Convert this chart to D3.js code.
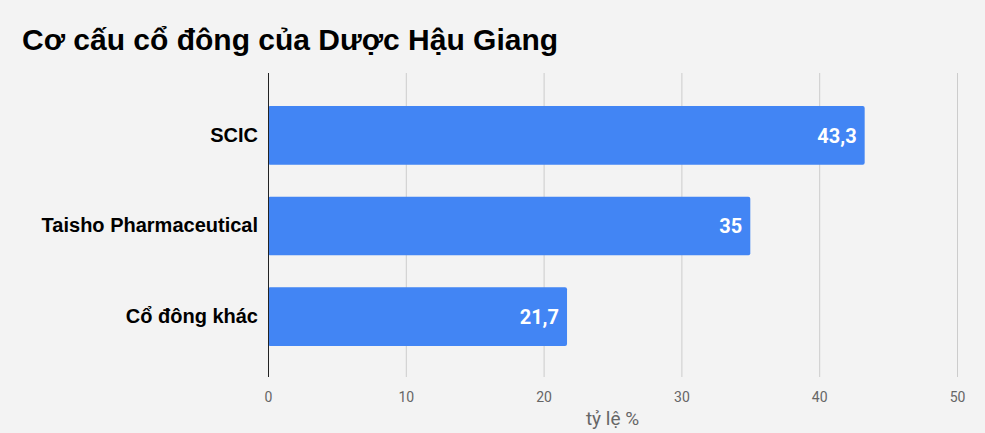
<!DOCTYPE html>
<html>
<head>
<meta charset="utf-8">
<script src="https://cdn.jsdelivr.net/npm/d3@7"></script>
<style>
  body { margin: 0; background: #f3f3f3; }
  svg { display: block; }
</style>
</head>
<body>
<div id="chart"></div>
<script>
var svgWidth = 985;
var svgHeight = 433;

// data
var categories = ["SCIC", "Taisho Pharmaceutical", "Cổ đông khác"];
var shares = [43.3, 35, 21.7];
var xTicks = [0, 10, 20, 30, 40, 50];

var plot = { left: 268, right: 957, top: 73, bottom: 377 };

var svg = d3.select("#chart")
  .append("svg")
  .attr("width", svgWidth)
  .attr("height", svgHeight);

svg.append("rect")
  .attr("width", svgWidth)
  .attr("height", svgHeight)
  .attr("fill", "#f3f3f3");

// title
svg.append("text")
  .attr("x", 22)
  .attr("y", 50)
  .attr("font-family", "Liberation Sans, Arial, sans-serif")
  .attr("font-weight", "bold")
  .attr("font-size", 30)
  .attr("fill", "#000")
  .text("Cơ cấu cổ đông của Dược Hậu Giang");

var xScale = d3.scaleLinear()
  .domain([0, 50])
  .range([plot.left, plot.right]);

var yScale = d3.scaleBand()
  .domain(categories)
  .range([plot.top + 1, plot.bottom + 1])
  .padding(0.353);

// gridlines
svg.append("g")
  .selectAll("line")
  .data(xTicks.filter(t => t > 0))
  .enter()
  .append("line")
  .attr("x1", d => xScale(d) + 0.5)
  .attr("x2", d => xScale(d) + 0.5)
  .attr("y1", plot.top)
  .attr("y2", plot.bottom)
  .attr("stroke", "#cccccc")
  .attr("stroke-width", 1);

// x axis (labels only)
var xAxis = svg.append("g")
  .attr("transform", `translate(0, ${plot.bottom})`)
  .call(d3.axisBottom(xScale).tickValues(xTicks).tickSize(0).tickPadding(15));
xAxis.select(".domain").remove();
xAxis.selectAll("text")
  .attr("font-family", "Roboto, sans-serif")
  .attr("font-size", 14)
  .attr("fill", "#666666");

// axis title
svg.append("text")
  .attr("x", (plot.left + plot.right) / 2)
  .attr("y", 425)
  .attr("text-anchor", "middle")
  .attr("font-family", "Roboto, sans-serif")
  .attr("font-size", 19)
  .attr("fill", "#666666")
  .text("tỷ lệ %");

// bars
svg.append("g")
  .selectAll("rect")
  .data(shares)
  .enter()
  .append("rect")
  .attr("x", xScale(0))
  .attr("y", (d, i) => yScale(categories[i]))
  .attr("width", d => xScale(d) - xScale(0))
  .attr("height", yScale.bandwidth())
  .attr("rx", 2)
  .attr("fill", "#4285f4");

// value labels
svg.append("g")
  .selectAll("text")
  .data(shares)
  .enter()
  .append("text")
  .attr("x", d => xScale(d) - 8)
  .attr("y", (d, i) => yScale(categories[i]) + yScale.bandwidth() / 2)
  .attr("dy", "0.36em")
  .attr("text-anchor", "end")
  .attr("font-family", "Roboto, sans-serif")
  .attr("font-weight", "bold")
  .attr("font-size", 20)
  .attr("fill", "#ffffff")
  .text(d => String(d).replace(".", ","));

// y axis labels
var yAxis = svg.append("g")
  .attr("transform", `translate(${plot.left}, 0)`)
  .call(d3.axisLeft(yScale).tickSize(0).tickPadding(10));
yAxis.select(".domain").remove();
yAxis.selectAll("text")
  .attr("font-family", "Liberation Sans, Arial, sans-serif")
  .attr("font-weight", "bold")
  .attr("font-size", 20)
  .attr("fill", "#000000");

// zero baseline
svg.append("line")
  .attr("x1", xScale(0) + 0.5)
  .attr("x2", xScale(0) + 0.5)
  .attr("y1", plot.top)
  .attr("y2", plot.bottom)
  .attr("stroke", "#222222")
  .attr("stroke-width", 1);
</script>
</body>
</html>
